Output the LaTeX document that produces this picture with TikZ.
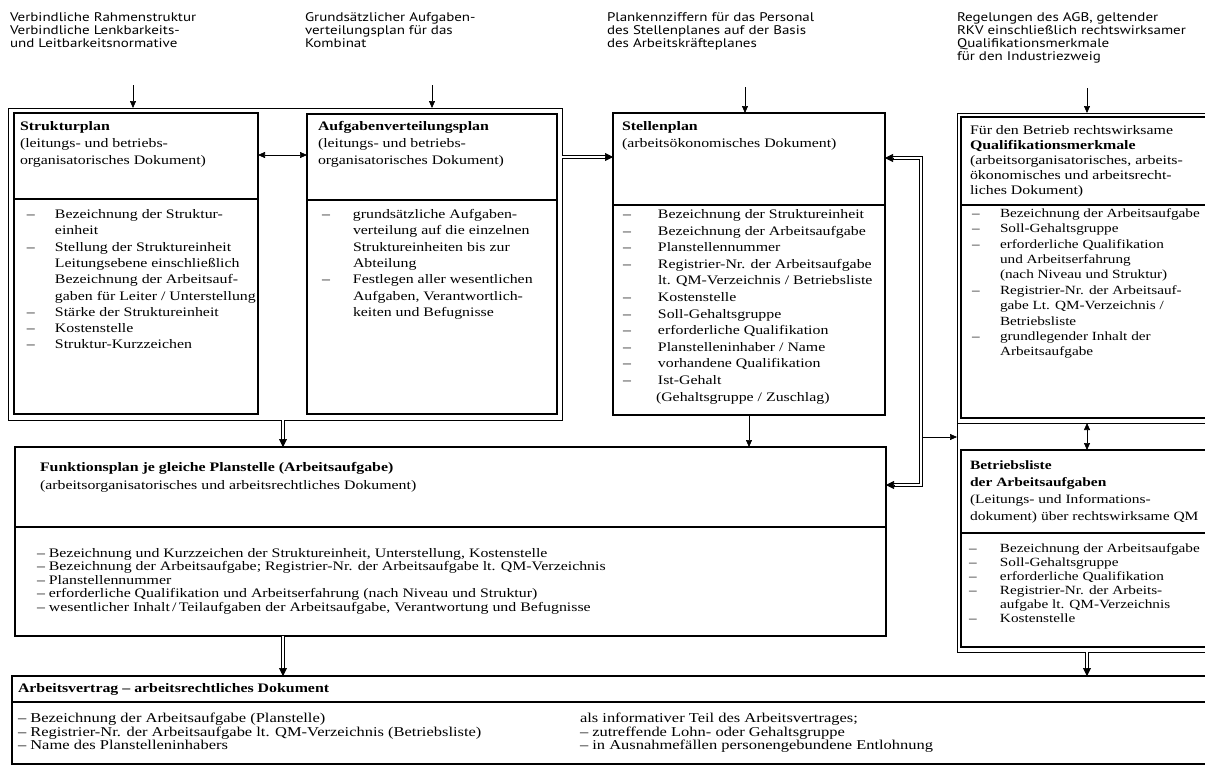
\documentclass[tikz,border=0pt]{standalone}
\usepackage{fontspec}
\setmainfont{Liberation Serif}[FakeStretch=1.22]
\newfontfamily\lblfam{PT Sans}[FakeStretch=1.2]
\usetikzlibrary{arrows.meta,calc}
\newcommand\Litem[2]{\makebox[#1][l]{--}#2}
\newcommand\Lcont[2]{\hspace*{#1}#2}
\newcommand\fLst{\fontsize{13}{16.3}\selectfont}
\newcommand\fStl{\fontsize{13}{16.6}\selectfont}
\newcommand\fHdr{\fontsize{13}{17}\selectfont}
\newcommand\fBh{\fontsize{12.7}{17}\selectfont}
\newcommand\fQua{\fontsize{12.5}{15.4}\selectfont}
\newcommand\fQh{\fontsize{13}{15}\selectfont}
\newcommand\fBl{\fontsize{12.5}{14}\selectfont}
\newcommand\fFl{\fontsize{13}{13.5}\selectfont}
\newcommand\fFh{\fontsize{13}{18}\selectfont}
\newcommand\fAt{\fontsize{13}{13}\selectfont}
\newcommand\fAv{\fontsize{13.5}{13}\selectfont}
\newcommand\fTop{\lblfam\fontsize{12.5}{13.2}\selectfont}
\newcommand\dblarrow[2]{%
  \draw[dbl, shorten >=7pt] (#1) -- (#2);
  \draw[tipsolid] ($(#2)!8pt!(#1)$) -- (#2);}
\tikzset{
  frame/.style={draw, line width=1.1pt, anchor=north west, inner sep=0pt, outer sep=0pt},
  gframe/.style={draw, line width=0.9pt, anchor=north west, inner sep=0pt, outer sep=0pt},
  ghost/.style={draw=none, anchor=north west, inner sep=0pt, outer sep=0pt},
  bline/.style={line width=1.1pt},
  gline/.style={line width=0.9pt},
  txt/.style={anchor=north west, inner sep=0pt, outer sep=0pt, align=left},
  arr/.style={line width=0.7pt, -{Triangle[length=7pt,width=6pt]}},
  arrboth/.style={line width=0.7pt, {Triangle[length=7pt,width=6pt]}-{Triangle[length=7pt,width=6pt]}},
  dbl/.style={double, double distance=2.2pt, line width=0.6pt},
  tipsolid/.style={line width=0.6pt, -{Triangle[length=8pt,width=8pt]}},
}
\begin{document}
\begin{tikzpicture}[x=1pt,y=-1pt]
\fill[white] (0,0) rectangle (1205,769);
\useasboundingbox (0,0) rectangle (1205,769);

% ---------- top labels ----------
\node[txt, font=\fTop] (t1) at (10,11.8) {\strut Verbindliche Rahmenstruktur\\Verbindliche Lenkbarkeits-\\und Leitbarkeitsnormative};
\node[txt, font=\fTop] (t2) at (305,11.8) {\strut Grundsätzlicher Aufgaben-\\verteilungsplan für das\\Kombinat};
\node[txt, font=\fTop] (t3) at (607,11.8) {\strut Plankennziffern für das Personal\\des Stellenplanes auf der Basis\\des Arbeitskräfteplanes};
\node[txt, font=\fTop] (t4) at (957,11.8) {\strut Regelungen des AGB, geltender\\RKV einschließlich rechtswirksamer\\Qualifikationsmerkmale\\für den Industriezweig};

% ---------- boxes ----------
\node[gframe, minimum width=554, minimum height=312] (grpL) at (8,108) {};
\node[frame, minimum width=244, minimum height=301] (struk) at (14,113) {};
\node[frame, minimum width=250, minimum height=300] (aufg) at (307,114) {};
\node[frame, minimum width=272, minimum height=302] (stell) at (613,113) {};
\node[frame, minimum width=871, minimum height=189] (funk) at (15,447) {};
\node[ghost, minimum width=1193, minimum height=88] (arbv) at (12,676) {};
\node[ghost, minimum width=248, minimum height=310] (grpQ) at (957,113) {};
\node[ghost, minimum width=248, minimum height=229] (grpB) at (957,423) {};
\node[ghost, minimum width=244, minimum height=301] (quali) at (961,117) {};
\node[ghost, minimum width=244, minimum height=197] (betr) at (961,450) {};

\draw[gline] (grpQ.north east) -- (grpQ.north west) -- (grpQ.south west) -- (grpQ.south east);
\draw[gline] (grpB.north east) -- (grpB.north west) -- (grpB.south west) -- (grpB.south east);
\draw[bline] (quali.north east) -- (quali.north west) -- (quali.south west) -- (quali.south east);
\draw[bline] (betr.north east) -- (betr.north west) -- (betr.south west) -- (betr.south east);
\draw[bline] (arbv.north east) -- (arbv.north west) -- (arbv.south west) -- (arbv.south east);

% dividers
\coordinate (d1) at (0,199);
\coordinate (d2) at (0,200);
\coordinate (d3) at (0,205);
\coordinate (d4) at (0,205);
\coordinate (d5) at (0,533);
\coordinate (d6) at (0,527);
\coordinate (d7) at (0,702);
\draw[bline] (struk.west |- d1) -- (struk.east |- d1);
\draw[bline] (aufg.west |- d2) -- (aufg.east |- d2);
\draw[bline] (stell.west |- d3) -- (stell.east |- d3);
\draw[bline] (quali.west |- d4) -- (quali.east |- d4);
\draw[bline] (betr.west |- d5) -- (betr.east |- d5);
\draw[bline] (funk.west |- d6) -- (funk.east |- d6);
\draw[bline] (arbv.west |- d7) -- (arbv.east |- d7);

% ---------- texts in boxes ----------
\node[txt, font=\fHdr] (hStruk) at (20,118.1) {\strut\textbf{Strukturplan}\\(leitungs- und betriebs-\\organisatorisches Dokument)};
\node[txt, font=\fLst] (lStruk) at (27,207.1) {\strut\Litem{28pt}{Bezeichnung der Struktur-}\\
\Lcont{28pt}{einheit}\\
\Litem{28pt}{Stellung der Struktureinheit}\\
\Lcont{28pt}{Leitungsebene einschließlich}\\
\Lcont{28pt}{Bezeichnung der Arbeitsauf-}\\
\Lcont{28pt}{gaben für Leiter / Unterstellung}\\
\Litem{28pt}{Stärke der Struktureinheit}\\
\Litem{28pt}{Kostenstelle}\\
\Litem{28pt}{Struktur-Kurzzeichen}};

\node[txt, font=\fHdr] (hAufg) at (318,118.1) {\strut\textbf{Aufgabenverteilungsplan}\\(leitungs- und betriebs-\\organisatorisches Dokument)};
\node[txt, font=\fLst] (lAufg) at (322,207.1) {\strut\Litem{31pt}{grundsätzliche Aufgaben-}\\
\Lcont{31pt}{verteilung auf die einzelnen}\\
\Lcont{31pt}{Struktureinheiten bis zur}\\
\Lcont{31pt}{Abteilung}\\
\Litem{31pt}{Festlegen aller wesentlichen}\\
\Lcont{31pt}{Aufgaben, Verantwortlich-}\\
\Lcont{31pt}{keiten und Befugnisse}};

\node[txt, font=\fHdr] (hStell) at (622,118.1) {\strut\textbf{Stellenplan}\\(arbeitsökonomisches Dokument)};
\node[txt, font=\fStl] (lStell) at (623,206.9) {\strut\Litem{35pt}{Bezeichnung der Struktureinheit}\\
\Litem{35pt}{Bezeichnung der Arbeitsaufgabe}\\
\Litem{35pt}{Planstellennummer}\\
\Litem{35pt}{Registrier-Nr. der Arbeitsaufgabe}\\
\Lcont{35pt}{lt. QM-Verzeichnis / Betriebsliste}\\
\Litem{35pt}{Kostenstelle}\\
\Litem{35pt}{Soll-Gehaltsgruppe}\\
\Litem{35pt}{erforderliche Qualifikation}\\
\Litem{35pt}{Planstelleninhaber / Name}\\
\Litem{35pt}{vorhandene Qualifikation}\\
\Litem{35pt}{Ist-Gehalt}\\
\Lcont{33pt}{(Gehaltsgruppe / Zuschlag)}};

\node[txt, font=\fQh] (hQuali) at (970,123.5) {\strut Für den Betrieb rechtswirksame\\\textbf{Qualifikationsmerkmale}\\(arbeitsorganisatorisches, arbeits-\\ökonomisches und arbeitsrecht-\\liches Dokument)};
\node[txt, font=\fQua] (lQuali) at (972,206.6) {\strut\Litem{28pt}{Bezeichnung der Arbeitsaufgabe}\\
\Litem{28pt}{Soll-Gehaltsgruppe}\\
\Litem{28pt}{erforderliche Qualifikation}\\
\Lcont{28pt}{und Arbeitserfahrung}\\
\Lcont{28pt}{(nach Niveau und Struktur)}\\
\Litem{28pt}{Registrier-Nr. der Arbeitsauf-}\\
\Lcont{28pt}{gabe Lt. QM-Verzeichnis /}\\
\Lcont{28pt}{Betriebsliste}\\
\Litem{28pt}{grundlegender Inhalt der}\\
\Lcont{28pt}{Arbeitsaufgabe}};

\node[txt, font=\fBh] (hBetr) at (970,457.1) {\strut\textbf{Betriebsliste}\\\textbf{der Arbeitsaufgaben}\\(Leitungs- und Informations-\\dokument) über rechtswirksame QM};
\node[txt, font=\fBl] (lBetr) at (969,542.6) {\strut\Litem{31pt}{Bezeichnung der Arbeitsaufgabe}\\
\Litem{31pt}{Soll-Gehaltsgruppe}\\
\Litem{31pt}{erforderliche Qualifikation}\\
\Litem{31pt}{Registrier-Nr. der Arbeits-}\\
\Lcont{31pt}{aufgabe lt. QM-Verzeichnis}\\
\Litem{31pt}{Kostenstelle}};

\node[txt, font=\fFh] (hFunk) at (40,458.4) {\strut\textbf{Funktionsplan je gleiche Planstelle (Arbeitsaufgabe)}\\(arbeitsorganisatorisches und arbeitsrechtliches Dokument)};
\node[txt, font=\fFl] (lFunk) at (37,548) {\strut -- Bezeichnung und Kurzzeichen der Struktureinheit, Unterstellung, Kostenstelle\\
-- Bezeichnung der Arbeitsaufgabe; Registrier-Nr. der Arbeitsaufgabe lt. QM-Verzeichnis\\
-- Planstellennummer\\
-- erforderliche Qualifikation und Arbeitserfahrung (nach Niveau und Struktur)\\
-- wesentlicher Inhalt\,/\,Teilaufgaben der Arbeitsaufgabe, Verantwortung und Befugnisse};

\node[txt, font=\fAt] (hArbv) at (18,683.4) {\strut\textbf{Arbeitsvertrag -- arbeitsrechtliches Dokument}};
\node[txt, font=\fAv] (lArbv) at (18,712.9) {\strut -- Bezeichnung der Arbeitsaufgabe (Planstelle)\\
-- Registrier-Nr. der Arbeitsaufgabe lt. QM-Verzeichnis (Betriebsliste)\\
-- Name des Planstelleninhabers};
\node[txt, font=\fAv] (rArbv) at (580,712.9) {\strut als informativer Teil des Arbeitsvertrages;\\
-- zutreffende Lohn- oder Gehaltsgruppe\\
-- in Ausnahmefällen personengebundene Entlohnung};

% ---------- connectors ----------
\coordinate (s1) at (133,85);
\coordinate (s2) at (432,85);
\coordinate (s3) at (745,87);
\coordinate (s4) at (1087,88);
\draw[arr] (s1) -- (s1 |- grpL.north);
\draw[arr] (s2) -- (s2 |- grpL.north);
\draw[arr] (s3) -- (s3 |- stell.north);
\draw[arr] (s4) -- (s4 |- grpQ.north);

\coordinate (y155) at (0,155);
\coordinate (y157) at (0,157);
\draw[arrboth] (struk.east |- y155) -- (aufg.west |- y155);

\coordinate (a1) at (grpL.east |- y157);
\coordinate (a2) at (stell.west |- y157);
\dblarrow{a1}{a2}

\draw[arr] (stell.south) -- (stell.south |- funk.north);

\coordinate (xL) at (283,0);
\coordinate (b1) at (xL |- grpL.south);
\coordinate (b2) at (xL |- funk.north);
\dblarrow{b1}{b2}
\coordinate (c1) at (xL |- funk.south);
\coordinate (c2) at (xL |- arbv.north);
\dblarrow{c1}{c2}

\coordinate (xR) at (1087,0);
\draw[arrboth] (xR |- grpQ.south) -- (xR |- betr.north);
\coordinate (e1) at (xR |- grpB.south);
\coordinate (e2) at (xR |- arbv.north);
\dblarrow{e1}{e2}

% loop on the right of Stellenplan
\coordinate (L2) at (921,158);
\coordinate (L3) at (921,485);
\coordinate (L1) at (stell.east |- L2);
\coordinate (L4) at (funk.east |- L3);
\draw[dbl, shorten <=7pt, shorten >=7pt] (L1) -- (L2) -- (L3) -- (L4);
\draw[tipsolid] ($(L1)!8pt!(L2)$) -- (L1);
\draw[tipsolid] ($(L4)!8pt!(L3)$) -- (L4);
\coordinate (L5) at (922.5,437);
\draw[arr] (L5) -- (L5 -| grpB.west);
\end{tikzpicture}
\end{document}
